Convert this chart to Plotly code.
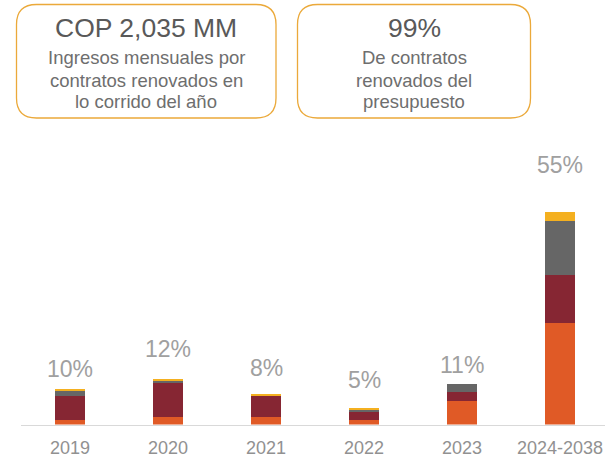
import plotly.graph_objects as go

W, H = 605, 457

# ---- data ----
categories = ["2019", "2020", "2021", "2022", "2023", "2024-2038"]
orange_vals = [4.7, 8.0, 8.0, 5.0, 23.3, 102.0]
maroon_vals = [23.6, 33.3, 20.7, 7.3, 9.0, 48.0]
gray_vals = [5.7, 2.7, 0.5, 2.3, 8.0, 53.6]
yellow_vals = [1.7, 0.7, 1.5, 1.3, 0.0, 9.0]
pct_labels = ["10%", "12%", "8%", "5%", "11%", "55%"]
pct_label_y = [55.5, 75.5, 57.0, 44.5, 60.0, 259.5]

box1_title = "COP 2,035 MM"
box1_lines = ["Ingresos mensuales por", "contratos renovados en", "lo corrido del año"]
box2_title = "99%"
box2_lines = ["De contratos", "renovados del", "presupuesto"]

# ---- styles ----
FONT = "Liberation Sans, Arial, sans-serif"
colors = ["#E05A26", "#862633", "#666666", "#F4B020"]
series = [orange_vals, maroon_vals, gray_vals, yellow_vals]

fig = go.Figure()
for vals, c in zip(series, colors):
    fig.add_trace(go.Bar(x=categories, y=vals, marker=dict(color=c, line=dict(width=0)),
                         width=0.31, hoverinfo="skip", showlegend=False))

# category axis: annotations use the category's serial index
for i, (lab, yy) in enumerate(zip(pct_labels, pct_label_y)):
    fig.add_annotation(x=i, y=yy, text=lab, showarrow=False, xref="x", yref="y",
                       font=dict(family=FONT, size=23, color="#A0A0A0"),
                       xanchor="center", yanchor="middle")


def px(x):
    return x / W


def py(y):
    return 1 - y / H


def rounded_rect(x0, y0, x1, y1, r):
    rx, ry = r / W, r / H
    X0, X1 = px(x0), px(x1)
    Y0, Y1 = py(y0), py(y1)  # Y0 top, Y1 bottom
    return (f"M {X0+rx},{Y0} L {X1-rx},{Y0} Q {X1},{Y0} {X1},{Y0-ry} "
            f"L {X1},{Y1+ry} Q {X1},{Y1} {X1-rx},{Y1} "
            f"L {X0+rx},{Y1} Q {X0},{Y1} {X0},{Y1+ry} "
            f"L {X0},{Y0-ry} Q {X0},{Y0} {X0+rx},{Y0} Z")


boxes = [
    (16.5, 4.5, 276, 118, box1_title, box1_lines),
    (297.5, 4.5, 530.5, 118, box2_title, box2_lines),
]
for x0, y0, x1, y1, title, lines in boxes:
    fig.add_shape(type="path", path=rounded_rect(x0, y0, x1, y1, 20),
                  xref="paper", yref="paper", line=dict(color="#EBA93A", width=1.3),
                  fillcolor="rgba(0,0,0,0)")
    cx = (x0 + x1) / 2
    fig.add_annotation(x=px(cx), y=py(28), xref="paper", yref="paper", text=title,
                       showarrow=False, xanchor="center", yanchor="middle",
                       font=dict(family=FONT, size=26.5, color="#595959"))
    for i, ln in enumerate(lines):
        fig.add_annotation(x=px(cx), y=py(58 + 22 * i), xref="paper", yref="paper", text=ln,
                           showarrow=False, xanchor="center", yanchor="middle",
                           font=dict(family=FONT, size=18.5, color="#6E6E6E"))

fig.update_layout(
    width=W, height=H, barmode="stack",
    margin=dict(l=0, r=0, t=0, b=0),
    paper_bgcolor="white", plot_bgcolor="white",
    font=dict(family=FONT),
    xaxis=dict(type="category", domain=[px(21), 1], range=[-0.5, 5.459], showline=True,
               linecolor="#D9D9D9", linewidth=1, showgrid=False, zeroline=False, ticks="",
               tickfont=dict(family=FONT, size=18, color="#919191"),
               ticklabelstandoff=7, fixedrange=True),
    yaxis=dict(domain=[py(424.5), py(140)], range=[0, 284.5], visible=False,
               fixedrange=True),
)

fig.write_html("out.html", config={"displayModeBar": False},
               post_script="document.body.style.margin='0';")
